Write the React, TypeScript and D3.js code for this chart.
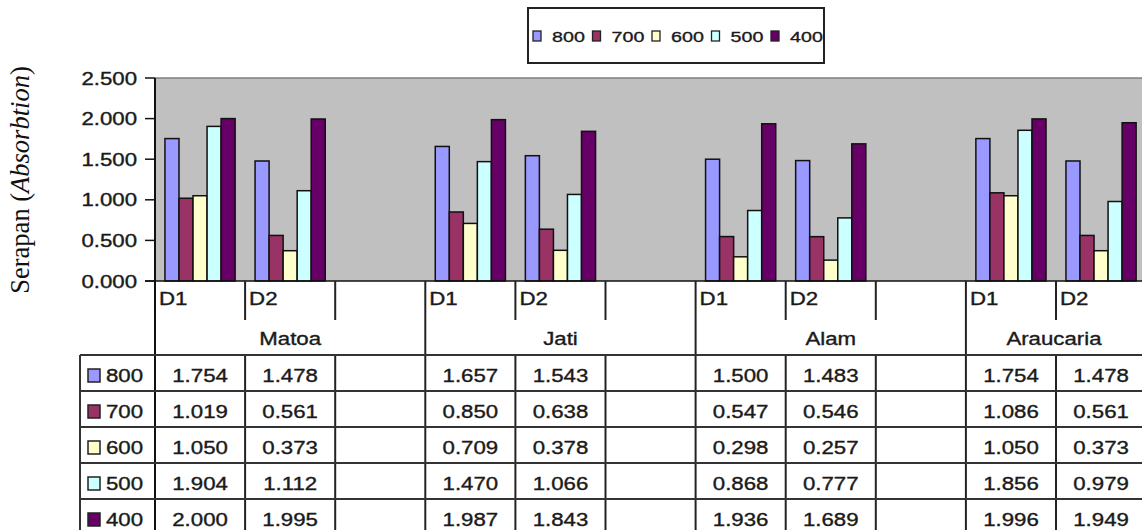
import * as React from "react";
import * as d3 from "d3";

const SERIES = ["800", "700", "600", "500", "400"];
const COLORS = ["#9999FF", "#993366", "#FFFFCC", "#CCFFFF", "#660066"];
const GROUPS = ["Matoa", "Jati", "Alam", "Araucaria"];
const SUBS = ["D1", "D2", ""];
const Y_TICKS = [0, 0.5, 1, 1.5, 2, 2.5];

// values per series, order: Matoa D1, D2, Jati D1, D2, Alam D1, D2, Araucaria D1, D2
const V800 = [1.754, 1.478, 1.657, 1.543, 1.5, 1.483, 1.754, 1.478];
const V700 = [1.019, 0.561, 0.85, 0.638, 0.547, 0.546, 1.086, 0.561];
const V600 = [1.05, 0.373, 0.709, 0.378, 0.298, 0.257, 1.05, 0.373];
const V500 = [1.904, 1.112, 1.47, 1.066, 0.868, 0.777, 1.856, 0.979];
const V400 = [2.0, 1.995, 1.987, 1.843, 1.936, 1.689, 1.996, 1.949];
const VALUES = [V800, V700, V600, V500, V400];

const W = 1142;
const H = 530;
const SX = 1.27; // source picture is stretched horizontally
const FONT = "'Liberation Sans', Arial, sans-serif";
const INK = "#1a1a1a";

function T(props: {
  x: number;
  y: number;
  size?: number;
  anchor?: string;
  children: React.ReactNode;
}) {
  const { x, y, size = 17.5, anchor = "start", children } = props;
  return (
    <text
      transform={`translate(${x},${y}) scale(${SX},1)`}
      textAnchor={anchor}
      fontFamily={FONT}
      fontSize={size}
      fill={INK}
      stroke={INK}
      strokeWidth={0.35}
    >
      {children}
    </text>
  );
}

export default function App() {
  const left = 155;
  const top = 78;
  const bottom = 281;
  const tableTop = 355;
  const rowH = 36;

  const slots = GROUPS.flatMap((g) => SUBS.map((s) => `${g}|${s}`));
  const x = d3
    .scaleBand<string>()
    .domain(slots)
    .range([left, left + 12 * 90.1])
    .padding(0);
  const inner = d3
    .scaleBand<string>()
    .domain(SERIES)
    .range([0, x.bandwidth()])
    .paddingInner(0)
    .paddingOuter(0.71);
  const y = d3.scaleLinear().domain([0, 2.5]).range([bottom, top]);

  const legendX = d3
    .scaleBand<string>()
    .domain(SERIES)
    .range([533, 533 + 5 * 59.5]);

  const valueIdx = (g: number, s: number) => g * 2 + s;

  const bars: { key: string; x: number; w: number; y: number; h: number; c: string }[] = [];
  GROUPS.forEach((g, gi) => {
    [0, 1].forEach((si) => {
      const sx = x(`${g}|${SUBS[si]}`)!;
      SERIES.forEach((s, k) => {
        const v = VALUES[k][valueIdx(gi, si)];
        bars.push({
          key: `${g}-${si}-${s}`,
          x: sx + inner(s)!,
          w: inner.bandwidth(),
          y: y(v),
          h: bottom - y(v),
          c: COLORS[k],
        });
      });
    });
  });

  const rowTops = SERIES.map((_, i) => tableTop + i * rowH);

  return (
    <svg
      width={W}
      height={H}
      style={{ position: "absolute", left: 0, top: 0, background: "#fff" }}
    >
      {/* y axis title */}
      <text
        transform={`translate(29,180) rotate(-90)`}
        textAnchor="middle"
        fontFamily="'Liberation Serif', 'Times New Roman', serif"
        fontSize={26.5}
        fill="#111"
      >
        Serapan (<tspan fontStyle="italic">Absorbtion</tspan>)
      </text>

      {/* legend */}
      <rect x={528} y={8} width={296} height={55} fill="#fff" stroke="#222" strokeWidth={2} />
      {SERIES.map((s, i) => (
        <g key={s}>
          <rect
            x={legendX(s)!}
            y={31}
            width={8}
            height={10}
            fill={COLORS[i]}
            stroke="#222"
            strokeWidth={1.3}
          />
          <T x={legendX(s)! + 19} y={42} size={15.5}>
            {s}
          </T>
        </g>
      ))}

      {/* plot area */}
      <rect x={left} y={top} width={W - left} height={bottom - top} fill="#C0C0C0" />
      <line x1={left} x2={W} y1={top} y2={top} stroke="#808080" strokeWidth={1.5} />

      {bars.map((b) => (
        <rect
          key={b.key}
          x={b.x}
          y={b.y}
          width={b.w}
          height={b.h}
          fill={b.c}
          stroke="#111"
          strokeWidth={1.5}
        />
      ))}

      {/* y axis */}
      {Y_TICKS.map((t) => (
        <g key={t}>
          <line x1={145} x2={left} y1={y(t)} y2={y(t)} stroke="#111" strokeWidth={1.5} />
          <T x={137} y={y(t) + 6.5} anchor="end">
            {d3.format(".3f")(t)}
          </T>
        </g>
      ))}
      <line x1={left} x2={left} y1={top} y2={H} stroke="#111" strokeWidth={2} />
      <line x1={145} x2={W} y1={bottom} y2={bottom} stroke="#111" strokeWidth={1.5} />

      {/* category axis */}
      {GROUPS.map((g, gi) => {
        const gx = x(`${g}|D1`)!;
        const bw = x.bandwidth();
        const gEnd = Math.min(gx + 3 * bw, W);
        return (
          <g key={g}>
            {gi > 0 && (
              <line x1={gx} x2={gx} y1={bottom} y2={H} stroke="#222" strokeWidth={2} />
            )}
            {[1, 2].map((k) => (
              <g key={k}>
                <line
                  x1={gx + k * bw}
                  x2={gx + k * bw}
                  y1={bottom}
                  y2={320}
                  stroke="#222"
                  strokeWidth={2}
                />
                <line
                  x1={gx + k * bw}
                  x2={gx + k * bw}
                  y1={tableTop}
                  y2={H}
                  stroke="#222"
                  strokeWidth={2}
                />
              </g>
            ))}
            {SUBS.slice(0, 2).map((s, si) => (
              <T key={s} x={gx + si * bw + 4} y={305}>
                {s}
              </T>
            ))}
            <T x={(gx + gEnd) / 2} y={345} anchor="middle">
              {g}
            </T>
          </g>
        );
      })}

      {/* data table */}
      {rowTops.map((rt) => (
        <line key={rt} x1={80} x2={W} y1={rt} y2={rt} stroke="#333" strokeWidth={2} />
      ))}
      <line x1={80} x2={80} y1={tableTop} y2={H} stroke="#333" strokeWidth={2} />
      {SERIES.map((s, k) => (
        <g key={s}>
          <rect
            x={88}
            y={rowTops[k] + 14}
            width={12}
            height={13}
            fill={COLORS[k]}
            stroke="#222"
            strokeWidth={1.5}
          />
          <T x={106} y={rowTops[k] + 27}>
            {s}
          </T>
          {GROUPS.map((g, gi) =>
            [0, 1].map((si) => {
              const sx = x(`${g}|${SUBS[si]}`)!;
              return (
                <T
                  key={`${g}-${si}`}
                  x={sx + x.bandwidth() / 2}
                  y={rowTops[k] + 27}
                  anchor="middle"
                >
                  {d3.format(".3f")(VALUES[k][valueIdx(gi, si)])}
                </T>
              );
            })
          )}
        </g>
      ))}
    </svg>
  );
}
